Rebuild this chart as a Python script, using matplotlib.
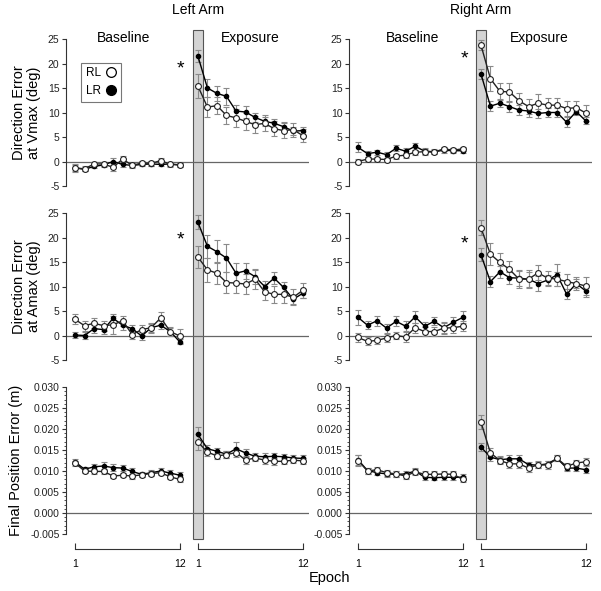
import matplotlib
matplotlib.use('Agg')
import matplotlib.pyplot as plt
from matplotlib.lines import Line2D
from matplotlib.patches import Rectangle
from matplotlib.ticker import MultipleLocator
import matplotlib.transforms as mtransforms
import numpy as np

plt.rcParams['font.family'] = ['Liberation Sans', 'DejaVu Sans']
plt.rcParams['axes.unicode_minus'] = False

epochs = np.arange(1, 13)
exp_offset = 12.9   # exposure epochs are drawn after the baseline block

# ---- Direction error at Vmax (deg) ----
vmax_L_base_rl = [-1.3, -1.5, -0.5, -0.5, -1.2, 0.5, -0.8, -0.3, -0.4, 0.2, -0.6, -0.7]
vmax_L_base_lr = [-1.3, -1.6, -1.0, -0.7, 0.0, -0.6, -0.8, -0.6, -0.5, -0.6, -0.5, -0.7]
vmax_L_exp_rl = [15.4, 11.1, 11.4, 9.4, 8.9, 8.2, 7.5, 7.8, 6.7, 6.3, 6.5, 5.3]
vmax_L_exp_lr = [21.5, 15.0, 13.9, 13.3, 10.3, 10.1, 9.0, 8.2, 7.8, 7.1, 6.2, 6.3]
vmax_R_base_rl = [0.0, 0.5, 0.5, 0.4, 1.1, 1.3, 1.9, 2.0, 1.9, 2.6, 2.3, 2.6]
vmax_R_base_lr = [2.9, 1.6, 1.9, 1.4, 2.7, 2.1, 3.1, 2.1, 2.0, 2.3, 2.2, 2.2]
vmax_R_exp_rl = [23.8, 16.9, 14.3, 14.2, 12.4, 11.2, 11.9, 11.5, 11.5, 10.8, 11.0, 9.9]
vmax_R_exp_lr = [17.9, 11.3, 11.9, 11.2, 10.5, 10.3, 9.8, 10.0, 10.0, 8.0, 10.2, 8.3]

vmax_L_base_rl_se = [0.8, 0.5, 0.5, 0.5, 0.8, 0.6, 0.5, 0.5, 0.5, 0.6, 0.5, 0.4]
vmax_L_base_lr_se = [0.6, 0.4, 0.4, 0.4, 0.8, 0.5, 0.4, 0.4, 0.4, 0.4, 0.4, 0.4]
vmax_L_exp_rl_se = [2.4, 2.0, 1.8, 1.8, 1.8, 1.8, 1.7, 1.6, 1.5, 1.5, 1.4, 1.3]
vmax_L_exp_lr_se = [1.2, 1.8, 1.5, 1.8, 1.2, 1.2, 1.0, 0.9, 0.9, 0.9, 0.8, 0.8]
vmax_R_base_rl_se = [0.5, 0.4, 0.4, 0.4, 0.5, 0.5, 0.5, 0.5, 0.4, 0.4, 0.4, 0.4]
vmax_R_base_lr_se = [1.0, 0.6, 0.5, 0.6, 0.6, 0.6, 0.7, 0.7, 0.5, 0.5, 0.5, 0.5]
vmax_R_exp_rl_se = [1.0, 2.5, 1.8, 1.8, 1.6, 1.5, 1.8, 1.4, 1.4, 1.6, 1.4, 1.6]
vmax_R_exp_lr_se = [1.0, 1.0, 0.8, 1.0, 1.0, 1.2, 1.0, 1.0, 1.0, 1.0, 0.8, 0.7]

# ---- Direction error at Amax (deg) ----
amax_L_base_rl = [3.3, 2.0, 2.5, 2.0, 2.2, 3.0, 0.2, 1.2, 1.6, 3.6, 0.8, -0.1]
amax_L_base_lr = [0.1, 0.0, 1.4, 1.2, 3.5, 2.1, 1.4, -0.1, 1.6, 2.1, 0.8, -1.3]
amax_L_exp_rl = [16.0, 13.4, 12.7, 10.8, 10.7, 10.5, 11.5, 8.9, 8.4, 8.4, 7.8, 9.2]
amax_L_exp_lr = [23.1, 18.2, 17.1, 15.8, 12.7, 13.2, 12.0, 10.0, 11.7, 9.8, 7.4, 8.6]
amax_R_base_rl = [-0.4, -1.2, -1.0, -0.5, 0.0, -0.3, 1.6, 0.8, 0.8, 1.5, 1.6, 1.9]
amax_R_base_lr = [3.7, 2.1, 3.0, 1.5, 2.9, 1.9, 3.8, 1.9, 2.9, 1.6, 2.7, 3.7]
amax_R_exp_rl = [22.0, 16.6, 14.9, 13.5, 11.5, 11.5, 12.8, 11.7, 11.5, 11.0, 10.6, 10.1]
amax_R_exp_lr = [16.5, 11.0, 13.0, 11.8, 11.7, 11.5, 10.6, 11.3, 12.4, 8.4, 10.6, 9.1]

amax_L_base_rl_se = [1.0, 1.0, 1.0, 1.0, 1.8, 1.0, 1.0, 1.0, 1.0, 1.2, 1.0, 1.4]
amax_L_base_lr_se = [0.6, 0.8, 0.8, 0.8, 0.9, 0.9, 0.8, 0.8, 0.8, 0.8, 0.8, 0.5]
amax_L_exp_rl_se = [2.3, 2.5, 2.2, 2.2, 2.0, 2.0, 2.0, 1.7, 1.7, 1.7, 1.6, 1.5]
amax_L_exp_lr_se = [1.4, 2.3, 2.4, 2.8, 2.1, 1.6, 1.4, 1.1, 1.2, 1.1, 0.9, 0.9]
amax_R_base_rl_se = [1.0, 0.8, 0.8, 0.8, 0.8, 1.0, 1.0, 1.0, 1.0, 1.0, 1.0, 1.0]
amax_R_base_lr_se = [1.5, 0.8, 1.0, 0.9, 1.0, 1.0, 1.2, 0.8, 0.8, 1.2, 1.0, 1.2]
amax_R_exp_rl_se = [1.5, 2.2, 2.0, 1.8, 1.8, 1.8, 1.5, 1.5, 1.4, 1.5, 1.4, 1.8]
amax_R_exp_lr_se = [1.3, 1.2, 1.2, 1.2, 1.5, 1.5, 1.5, 1.0, 2.2, 1.0, 1.0, 1.2]

# ---- Final position error (m) ----
fpe_L_base_rl = [0.0119, 0.0100, 0.0099, 0.0099, 0.0088, 0.0090, 0.0088, 0.0091, 0.0094, 0.0096, 0.0086, 0.0080]
fpe_L_base_lr = [0.0122, 0.0104, 0.0110, 0.0112, 0.0108, 0.0107, 0.0099, 0.0092, 0.0096, 0.0100, 0.0095, 0.0090]
fpe_L_exp_rl = [0.0169, 0.0145, 0.0136, 0.0139, 0.0144, 0.0126, 0.0131, 0.0126, 0.0123, 0.0123, 0.0126, 0.0124]
fpe_L_exp_lr = [0.0187, 0.0153, 0.0147, 0.0140, 0.0153, 0.0143, 0.0135, 0.0134, 0.0135, 0.0134, 0.0131, 0.0130]
fpe_R_base_rl = [0.0125, 0.0100, 0.0103, 0.0096, 0.0093, 0.0088, 0.0098, 0.0092, 0.0092, 0.0093, 0.0092, 0.0080]
fpe_R_base_lr = [0.0127, 0.0101, 0.0096, 0.0093, 0.0092, 0.0093, 0.0100, 0.0085, 0.0084, 0.0085, 0.0085, 0.0085]
fpe_R_exp_rl = [0.0217, 0.0143, 0.0125, 0.0117, 0.0117, 0.0107, 0.0115, 0.0114, 0.0130, 0.0111, 0.0119, 0.0122]
fpe_R_exp_lr = [0.0157, 0.0133, 0.0127, 0.0129, 0.0129, 0.0115, 0.0114, 0.0117, 0.0130, 0.0107, 0.0107, 0.0103]

fpe_L_base_rl_se = [0.0006, 0.0005, 0.0005, 0.0006, 0.0005, 0.0005, 0.0006, 0.0005, 0.0005, 0.0005, 0.0006, 0.0006]
fpe_L_base_lr_se = [0.0006, 0.0006, 0.0007, 0.0009, 0.0008, 0.0008, 0.0007, 0.0006, 0.0006, 0.0006, 0.0007, 0.0008]
fpe_L_exp_rl_se = [0.0020, 0.0010, 0.0008, 0.0008, 0.0010, 0.0009, 0.0008, 0.0009, 0.0008, 0.0007, 0.0007, 0.0007]
fpe_L_exp_lr_se = [0.0018, 0.0009, 0.0008, 0.0008, 0.0015, 0.0009, 0.0008, 0.0009, 0.0008, 0.0007, 0.0008, 0.0008]
fpe_R_base_rl_se = [0.0012, 0.0007, 0.0006, 0.0007, 0.0007, 0.0007, 0.0007, 0.0007, 0.0007, 0.0006, 0.0007, 0.0007]
fpe_R_base_lr_se = [0.0012, 0.0007, 0.0006, 0.0007, 0.0007, 0.0007, 0.0006, 0.0007, 0.0006, 0.0006, 0.0006, 0.0007]
fpe_R_exp_rl_se = [0.0016, 0.0012, 0.0009, 0.0010, 0.0011, 0.0009, 0.0009, 0.0009, 0.0007, 0.0008, 0.0008, 0.0008]
fpe_R_exp_lr_se = [0.0010, 0.0008, 0.0008, 0.0008, 0.0009, 0.0007, 0.0007, 0.0007, 0.0007, 0.0006, 0.0007, 0.0008]

row_labels = ['Direction Error\nat Vmax (deg)', 'Direction Error\nat Amax (deg)', 'Final Position Error (m)']
col_titles = ['Left Arm', 'Right Arm']

panels = [
    [(vmax_L_base_rl, vmax_L_base_rl_se, vmax_L_base_lr, vmax_L_base_lr_se,
      vmax_L_exp_rl, vmax_L_exp_rl_se, vmax_L_exp_lr, vmax_L_exp_lr_se),
     (vmax_R_base_rl, vmax_R_base_rl_se, vmax_R_base_lr, vmax_R_base_lr_se,
      vmax_R_exp_rl, vmax_R_exp_rl_se, vmax_R_exp_lr, vmax_R_exp_lr_se)],
    [(amax_L_base_rl, amax_L_base_rl_se, amax_L_base_lr, amax_L_base_lr_se,
      amax_L_exp_rl, amax_L_exp_rl_se, amax_L_exp_lr, amax_L_exp_lr_se),
     (amax_R_base_rl, amax_R_base_rl_se, amax_R_base_lr, amax_R_base_lr_se,
      amax_R_exp_rl, amax_R_exp_rl_se, amax_R_exp_lr, amax_R_exp_lr_se)],
    [(fpe_L_base_rl, fpe_L_base_rl_se, fpe_L_base_lr, fpe_L_base_lr_se,
      fpe_L_exp_rl, fpe_L_exp_rl_se, fpe_L_exp_lr, fpe_L_exp_lr_se),
     (fpe_R_base_rl, fpe_R_base_rl_se, fpe_R_base_lr, fpe_R_base_lr_se,
      fpe_R_exp_rl, fpe_R_exp_rl_se, fpe_R_exp_lr, fpe_R_exp_lr_se)],
]

W, H = 601, 591
fig = plt.figure(figsize=(W / 100, H / 100), dpi=100)

col_left = [66.4 / W, 349.4 / W]
ax_w = 243 / W
row_top = [39, 213, 387]
ax_h = 147 / H
xlim = (0.1, 25.6)

axes = [[None, None] for _ in range(3)]
for r in range(3):
    for c in range(2):
        ax = fig.add_axes([col_left[c], 1 - (row_top[r] + 147) / H, ax_w, ax_h])
        ax.set_facecolor('none')
        axes[r][c] = ax
        for s in ['top', 'right', 'bottom']:
            ax.spines[s].set_visible(False)
        ax.spines['left'].set_color('#333333')
        ax.spines['left'].set_linewidth(0.8)
        ax.set_xlim(*xlim)
        ax.set_xticks([])
        ax.tick_params(axis='y', labelsize=7.5, length=3, width=0.8, color='#333333',
                       labelcolor='#222222', pad=2)
        ax.axhline(0, color='#666666', lw=0.9, zorder=1)

        b_rl, b_rl_se, b_lr, b_lr_se, e_rl, e_rl_se, e_lr, e_lr_se = panels[r][c]
        for x, rl, rl_se, lr, lr_se in [(epochs, b_rl, b_rl_se, b_lr, b_lr_se),
                                         (epochs + exp_offset, e_rl, e_rl_se, e_lr, e_lr_se)]:
            ax.errorbar(x, lr, yerr=lr_se, fmt='none', ecolor='#8a8a8a', elinewidth=0.8,
                        capsize=2, capthick=0.8, zorder=2)
            ax.errorbar(x, rl, yerr=rl_se, fmt='none', ecolor='#8a8a8a', elinewidth=0.8,
                        capsize=2, capthick=0.8, zorder=2)
            ax.plot(x, lr, color='black', lw=1.0, marker='o', ms=3, mfc='black',
                    mec='black', zorder=3)
            ax.plot(x, rl, color='#222222', lw=1.0, marker='o', ms=4.2, mfc='white',
                    mec='#222222', mew=0.8, zorder=4)

        if r < 2:
            ax.set_ylim(-5, 25)
            ax.set_yticks(np.arange(-5, 26, 5))
        else:
            ax.set_ylim(-0.005, 0.030)
            ax.set_yticks(np.arange(-0.005, 0.0301, 0.005))
            ax.set_yticklabels(['%.3f' % v for v in np.arange(-0.005, 0.0301, 0.005)])
            ax.yaxis.set_minor_locator(MultipleLocator(0.001))
            ax.tick_params(axis='y', which='minor', length=1.5, width=0.6, color='#333333')
        if c == 0:
            ax.set_ylabel(row_labels[r], fontsize=10.5, labelpad=5, linespacing=1.05)

# significance stars on the first exposure epoch
star_pos = [[(12.1, 18.8), (12.2, 21.0)], [(12.1, 19.4), (12.2, 18.6)]]
for r in range(2):
    for c in range(2):
        sx, sy = star_pos[r][c]
        axes[r][c].text(sx, sy, '*', fontsize=14, ha='center', va='center')

# phase labels
for c, (bx, ex) in enumerate([(6.1, 19.4), (6.7, 20.0)]):
    axes[0][c].text(bx, 24.3, 'Baseline', fontsize=10, ha='center', va='baseline')
    axes[0][c].text(ex, 24.3, 'Exposure', fontsize=10, ha='center', va='baseline')

# column titles
for c, title in enumerate(col_titles):
    x_disp = axes[0][c].transData.transform((exp_offset + 1, 0))[0]
    fig.text(x_disp / W, 1 - 10 / H, title, fontsize=10, ha='center', va='center')

# legend
handles = [Line2D([], [], ls='none', marker='o', ms=7, mfc='white', mec='black', mew=0.9),
           Line2D([], [], ls='none', marker='o', ms=7, mfc='black', mec='black')]
leg = axes[0][0].legend(handles, ['RL', 'LR'], loc='upper left', bbox_to_anchor=(0.06, 0.84),
                        markerfirst=False, fontsize=8.5, frameon=True, fancybox=False,
                        handlelength=0.8, handletextpad=0.5, borderpad=0.4, labelspacing=0.5,
                        borderaxespad=0)
leg.get_frame().set_edgecolor('#555555')
leg.get_frame().set_linewidth(0.8)

# gray bar marking the start of exposure, spanning all rows
for c in range(2):
    trans = mtransforms.blended_transform_factory(axes[0][c].transData, fig.transFigure)
    x0 = exp_offset + 1 - 0.53
    rect = Rectangle((x0, 1 - 539 / H), 1.06, (539 - 30) / H, transform=trans,
                     facecolor='#d4d4d4', edgecolor='#555555', lw=0.8, zorder=-1)
    fig.add_artist(rect)

# epoch brackets
for c in range(2):
    for x in [epochs, epochs + exp_offset]:
        axb = fig.add_axes([col_left[c], 1 - 549 / H, ax_w, 0.001])
        axb.set_facecolor('none')
        for s in ['top', 'right', 'left']:
            axb.spines[s].set_visible(False)
        axb.spines['bottom'].set_bounds(x[0], x[-1])
        axb.spines['bottom'].set_color('#333333')
        axb.spines['bottom'].set_linewidth(0.8)
        axb.set_xlim(*xlim)
        axb.set_yticks([])
        axb.set_xticks([x[0], x[-1]])
        axb.set_xticklabels([str(epochs[0]), str(epochs[-1])])
        axb.tick_params(axis='x', direction='in', length=4, width=0.8, color='#333333',
                        labelsize=7.5, pad=7)

fig.text(330 / W, 1 - 578 / H, 'Epoch', fontsize=10.5, ha='center', va='center')

fig.savefig('out.png', dpi=100)
